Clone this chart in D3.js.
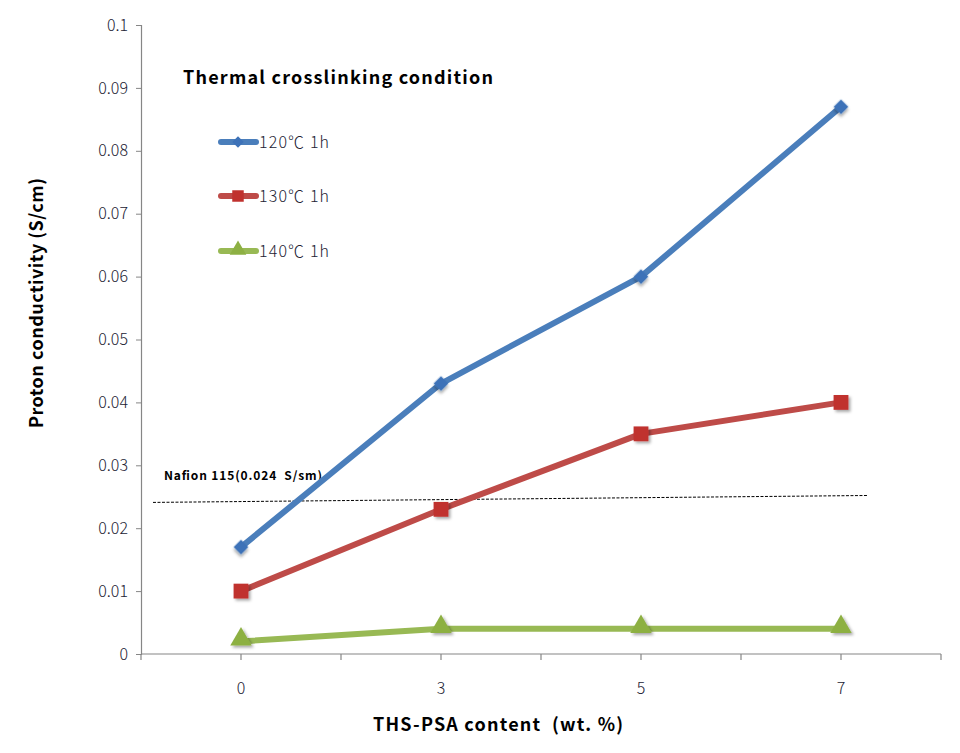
<!DOCTYPE html>
<html><head><meta charset="utf-8">
<script src="https://cdn.jsdelivr.net/npm/d3@7"></script>
<style>body{margin:0;background:#fff}text{font-family:"Noto Sans CJK KR","Noto Sans",sans-serif}</style>
</head><body>
<script>
const categories = ["0","3","5","7"];
const seriesNames = ["120\u2103 1h","130\u2103 1h","140\u2103 1h"];
const s120 = [0.017, 0.043, 0.060, 0.087];
const s130 = [0.010, 0.023, 0.035, 0.040];
const s140 = [0.002, 0.004, 0.004, 0.004];
const yTicks = [0,0.01,0.02,0.03,0.04,0.05,0.06,0.07,0.08,0.09,0.1];
const nafionX = [-0.44, 3.13];
const nafionY = [0.0241, 0.0252];

const W=960,H=753;
const svg=d3.select("body").append("svg").attr("width",W).attr("height",H);
const defs=svg.append("defs");
const f=defs.append("filter").attr("id","sh").attr("x","-50%").attr("y","-50%").attr("width","200%").attr("height","200%");
f.append("feDropShadow").attr("dx",2).attr("dy",2).attr("stdDeviation",1.5).attr("flood-color","#000").attr("flood-opacity",0.35);

const pL=141,pR=941,pT=25,pB=654;
const y=d3.scaleLinear().domain([0,0.1]).range([pB,pT]);
const xb=d3.scaleBand().domain(categories).range([pL,pR]).padding(0);
const xi=d3.scaleLinear().domain([-0.5,3.5]).range([pL,pR]);
const xc=c=>xb(c)+xb.bandwidth()/2;

// y axis
const ya=svg.append("g").attr("transform",`translate(${pL},0)`)
 .call(d3.axisLeft(y).tickValues(yTicks).tickSize(5).tickPadding(8).tickFormat(d=>d===0?"0":String(+d.toFixed(2))));
ya.select(".domain").attr("stroke","#868686").attr("stroke-width",1.2);
ya.selectAll(".tick line").attr("stroke","#868686");
ya.selectAll("text").attr("font-size",16).attr("fill","#222233").attr("font-family",'"Noto Sans CJK KR",sans-serif').attr("font-weight",300);

// x axis
const xa=svg.append("g").attr("transform",`translate(0,${pB})`);
xa.append("line").attr("x1",pL).attr("x2",pR).attr("stroke","#868686").attr("stroke-width",1.2);
const tickPos=d3.range(0,9).map(i=>pL+i*xb.bandwidth()/2);
xa.selectAll("line.t").data(tickPos).join("line").attr("class","t")
 .attr("x1",d=>d).attr("x2",d=>d).attr("y1",0).attr("y2",6).attr("stroke","#868686").attr("stroke-width",1.2);
xa.selectAll("text").data(categories).join("text").attr("x",d=>xc(d)).attr("y",40)
 .attr("text-anchor","middle").attr("font-size",16).attr("font-weight",300).attr("fill","#222233").text(d=>d);

// axis titles
svg.append("text").attr("transform","translate(43,303) rotate(-90)").attr("text-anchor","middle")
 .attr("font-size",18).attr("font-weight","bold").attr("fill","#000")
 .attr("textLength",250).attr("lengthAdjust","spacing").text("Proton conductivity (S/cm)");
svg.append("text").attr("x",498).attr("y",731).attr("text-anchor","middle")
 .attr("font-size",18).attr("font-weight","bold").attr("fill","#000").attr("xml:space","preserve")
 .attr("textLength",250).attr("lengthAdjust","spacing").text("THS-PSA content  (wt. %)");

// Nafion line
svg.append("line").attr("x1",xi(nafionX[0])).attr("x2",xi(nafionX[1])).attr("y1",y(nafionY[0])).attr("y2",y(nafionY[1]))
 .attr("stroke","#000").attr("stroke-width",1).attr("stroke-dasharray","3,1.5");
svg.append("text").attr("x",164).attr("y",480).attr("font-size",12).attr("font-weight","bold").attr("fill","#000")
 .attr("xml:space","preserve").attr("textLength",158).attr("lengthAdjust","spacing").text("Nafion 115(0.024  S/sm)");

const colors=["#4A7EBB","#BE4B48","#98B954"];
const markColors=["#3D72B8","#C0312E","#8DB043"];
const data=[s120,s130,s140];
const shapes=[d3.symbolSquare,d3.symbolSquare,d3.symbolTriangle];
const rot=[45,0,0];
const sizes=[110,220,200];
const line=d3.line().x((d,i)=>xc(categories[i])).y(d=>y(d));

data.forEach((s,k)=>{
  svg.append("path").datum(s).attr("d",line).attr("fill","none").attr("stroke",colors[k]).attr("stroke-width",6).attr("stroke-linejoin","round");
  svg.selectAll(null).data(s).join("path")
   .attr("transform",(d,i)=>`translate(${xc(categories[i])},${y(d)+(k===2?-2:0)}) rotate(${rot[k]})`)
   .attr("d",d3.symbol().type(shapes[k]).size(sizes[k])).attr("fill",markColors[k]).attr("filter","url(#sh)");
});

// legend
svg.append("text").attr("x",183).attr("y",84).attr("font-size",18).attr("font-weight","bold").attr("fill","#000")
 .attr("textLength",310).attr("lengthAdjust","spacing").text("Thermal crosslinking condition");
const ly=[142,196,251];
seriesNames.forEach((n,k)=>{
  const g=svg.append("g").attr("transform",`translate(0,${ly[k]})`);
  g.append("line").attr("x1",221).attr("x2",256).attr("stroke",colors[k]).attr("stroke-width",6).attr("stroke-linecap","round");
  g.append("path").attr("transform",`translate(238,${k===2?-1:0}) rotate(${rot[k]})`).attr("d",d3.symbol().type(shapes[k]).size(sizes[k]*0.6)).attr("fill",markColors[k]);
  g.append("text").attr("x",259).attr("y",6).attr("font-size",16).attr("font-weight",300).attr("fill","#222233")
   .attr("textLength",70).attr("lengthAdjust","spacing").text(n);
});
</script>
</body></html>
